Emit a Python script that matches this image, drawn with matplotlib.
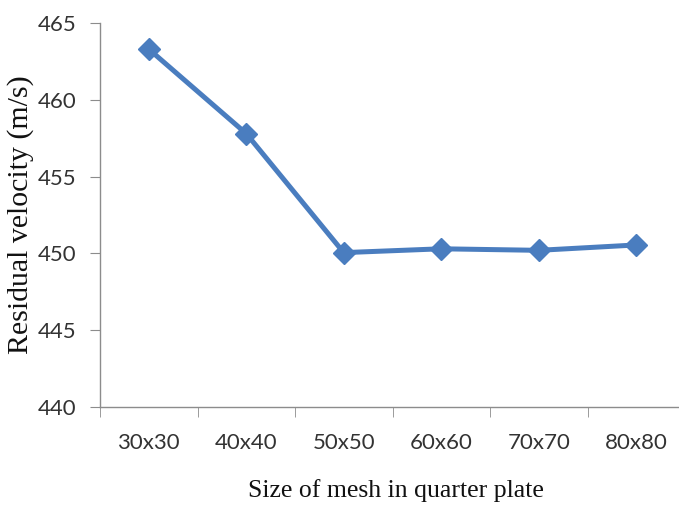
import matplotlib
matplotlib.use("Agg")
import numpy as np
import matplotlib.pyplot as plt

# mesh sizes and residual velocities
categories = ["30x30", "40x40", "50x50", "60x60", "70x70", "80x80"]
velocity = [463.3, 457.8, 450.05, 450.3, 450.2, 450.55]
y_ticks = [440, 445, 450, 455, 460, 465]

fig = plt.figure(figsize=(6.79, 5.08), dpi=100)
ax = fig.add_axes([100 / 679, 1 - 407 / 508, 585 / 679, (407 - 23) / 508])

x = np.arange(len(categories))
ax.plot(x, velocity, color="#4a7dbf", lw=3.6, marker="D", ms=11,
        mec="#4a7dbf", mfc="#4a7dbf", solid_capstyle="round")

ax.set_xlim(-0.5, len(categories) - 0.5)
ax.set_ylim(440, 465)
ax.set_yticks(y_ticks)
ax.set_xticks(x)
ax.set_xticklabels(categories)
ax.set_xticks(np.arange(-0.5, len(categories)), minor=True)

for s in ["top", "right"]:
    ax.spines[s].set_visible(False)
for s in ["left", "bottom"]:
    ax.spines[s].set_color("#8c8c8c")
    ax.spines[s].set_linewidth(1.0)

ax.tick_params(axis="y", direction="out", length=7, color="#8c8c8c", pad=10,
               labelsize=16, labelcolor="#333333")
ax.tick_params(axis="x", which="major", length=0, pad=19, labelsize=16,
               labelcolor="#333333")
ax.tick_params(axis="x", which="minor", direction="out", length=7,
               color="#8c8c8c")
for lab in ax.get_xticklabels() + ax.get_yticklabels():
    lab.set_family("Lato")

ax.set_ylabel("Residual velocity (m/s)", family="Liberation Serif",
              fontsize=21.5, color="#111111")
ax.yaxis.set_label_coords(-(100 - 34) / 585, 0.5)
ax.set_xlabel("Size of mesh in quarter plate", family="Liberation Serif",
              fontsize=18.5, color="#111111")
ax.xaxis.set_label_coords((396 - 100) / 585, -(479 - 407) / 384)

fig.savefig("out.png", dpi=100)
